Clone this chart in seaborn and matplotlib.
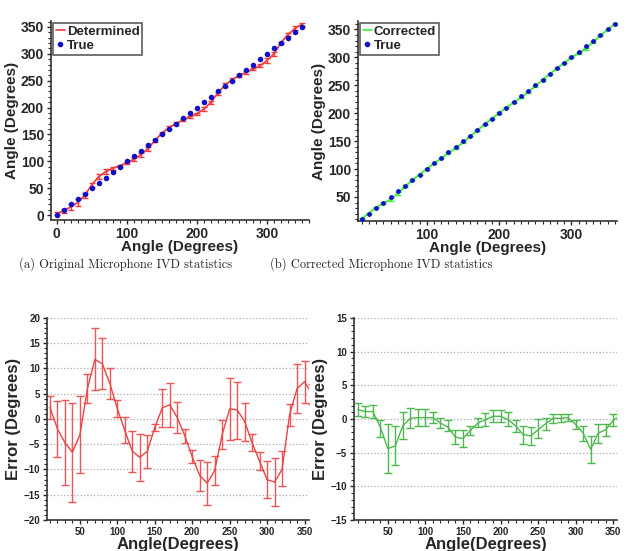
import numpy as np
import pandas as pd
import seaborn as sns
import matplotlib.pyplot as plt
from matplotlib.ticker import MultipleLocator
from matplotlib.lines import Line2D

# Data
true_a = [0, 10, 20, 30, 40, 50, 60, 70, 80, 90, 100, 110, 120, 130, 140, 150, 160, 170,
          180, 190, 200, 210, 220, 230, 240, 250, 260, 270, 280, 290, 300, 310, 320, 330, 340, 350]
determined = [3, 8, 15.3, 23.4, 36.9, 56, 71.8, 80.9, 87, 92, 97.7, 103.6, 112.4, 123.6, 138.3,
              152.2, 162.8, 170.3, 176.7, 182.5, 188.8, 197.3, 209.8, 226.9, 242, 251.8, 259.5,
              265.3, 271.6, 278, 287.5, 300, 320.8, 336, 347.4, 355]
determined_err = [3, 4, 5, 7, 5, 4, 5, 5, 3, 2, 2, 3, 4, 4, 3, 2, 3, 3, 2, 2, 2, 3, 3, 3, 3,
                  3, 3, 2, 2, 3, 4, 4, 2, 3, 4, 3]

true_b = [10, 20, 30, 40, 50, 60, 70, 80, 90, 100, 110, 120, 130, 140, 150, 160, 170, 180,
          190, 200, 210, 220, 230, 240, 250, 260, 270, 280, 290, 300, 310, 320, 330, 340, 350, 360]
corrected = [11.4, 21.1, 31.1, 38.8, 45.6, 56, 69, 80.1, 90.2, 100.2, 110.2, 119.4, 128.8,
             137.3, 147.1, 158.3, 169.4, 179.9, 190.4, 200.4, 209.9, 219, 227.7, 237.5, 248.4,
             259.3, 270.1, 280.1, 290.2, 299.2, 307.9, 315.5, 327.9, 338.4, 349.8, 360.3]
corrected_err = [1, 1, 1, 2, 3, 3, 2, 1.5, 1.3, 1.3, 1, 1, 1, 1, 1.2, 1, 1, 1, 1, 1, 1, 1,
                 1.3, 1.3, 1.4, 1, 0.7, 0.6, 0.5, 0.7, 1.1, 2, 1.4, 1, 1, 1]

err_x = [10, 20, 30, 40, 50, 60, 70, 80, 90, 100, 110, 120, 130, 140, 150, 160, 170, 180,
         190, 200, 210, 220, 230, 240, 250, 260, 270, 280, 290, 300, 310, 320, 330, 340, 350, 360]
orig_error = [2.3, -2, -4.7, -6.6, -3.1, 6, 11.8, 10.9, 7, 2, -2.3, -6.4, -7.6, -6.4, -1.7,
              2.2, 2.8, 0.3, -3.3, -7.5, -11.2, -12.7, -10.2, -3.1, 2, 1.8, -0.5, -4.7, -8.4,
              -12, -12.5, -10, 0.8, 6, 7.4, 5]
orig_lo = [0, -7.5, -13, -16.5, -10.7, 3.2, 5.8, 6, 4, 0.4, -4.8, -10.5, -12.3, -9.7, -2.4,
           -1.5, -1.5, -2.8, -4.8, -8.8, -14.2, -17, -13, -6, -4.1, -3.9, -4.3, -6.3, -10.1,
           -15.6, -17.3, -13.2, -1.3, 1.1, 3.2, 3]
orig_hi = [4.6, 3.5, 3.7, 3.2, 4.6, 9, 18, 16, 10, 3.8, 0.3, -2.4, -2.9, -3.2, -0.9, 6, 7.2,
           3.4, -2, -6.2, -8.2, -8.6, -7.3, -0.2, 8.2, 7.4, 3.2, -3, -6.6, -8.4, -7.7, -6.3,
           3, 10.8, 11.5, 7]
corr_error = [1.4, 1.1, 1.1, -1.2, -4.4, -4, -1, 0.1, 0.2, 0.2, 0.2, -0.6, -1.2, -2.7, -2.9,
              -1.7, -0.6, -0.1, 0.4, 0.4, -0.1, -1, -2.3, -2.5, -1.6, -0.7, 0.1, 0.1, 0.2,
              -0.8, -2.1, -4.5, -2.1, -1.6, -0.2, 0.6]
corr_lo = [0.4, 0.3, 0.2, -2.7, -8, -6.9, -2.9, -1.4, -1.1, -1.1, -0.6, -1.4, -1.8, -3.7, -4.1,
           -2.4, -1.2, -1.1, -0.5, -0.5, -1.1, -1.9, -3.7, -3.9, -2.8, -1.6, -0.6, -0.5, -0.3,
           -1.5, -3.2, -6.6, -3.6, -2.5, -1, 0]
corr_hi = [2.3, 2, 2.1, -0.1, -0.8, -1.1, 1.1, 1.6, 1.5, 1.5, 1.1, 0.2, -0.2, -1.6, -1.6, -1,
           0.1, 0.9, 1.3, 1.4, 1, -0.1, -1, -1.2, 0, 0.2, 0.7, 0.7, 0.7, -0.1, -1, -2.5, -0.8,
           -0.7, 0.8, 1.2]

sns.set_style("ticks")
plt.rcParams['font.family'] = ['Liberation Sans', 'DejaVu Sans']
plt.rcParams['font.weight'] = 'bold'

RED = '#f03a3a'
BLUE = '#1010c8'
GREEN_A = '#44ee44'
GREEN_B = '#4db84d'

fig = plt.figure(figsize=(6.31, 5.51), dpi=100)
ax1 = fig.add_axes([0.0808, 0.6007, 0.4089, 0.3612])
ax2 = fig.add_axes([0.5674, 0.5989, 0.4105, 0.3630])
ax3 = fig.add_axes([0.0745, 0.0563, 0.4152, 0.3666])
ax4 = fig.add_axes([0.5610, 0.0563, 0.4168, 0.3666])


def style_axes(ax, fs):
    sns.despine(ax=ax)
    ax.tick_params(axis='both', which='major', labelsize=fs, length=3, width=1, pad=2)
    ax.tick_params(axis='both', which='minor', length=2, width=0.8)
    for lab in ax.get_xticklabels() + ax.get_yticklabels():
        lab.set_fontweight('bold')
    for s in ax.spines.values():
        s.set_linewidth(1.2)
        s.set_color('#333333')


# (a) Determined vs true
df_a = pd.DataFrame({"x": true_a, "det": determined, "true": true_a})
ax1.errorbar(true_a, determined, yerr=determined_err, fmt='none', ecolor=RED,
             elinewidth=1, capsize=2.5)
sns.lineplot(data=df_a, x="x", y="det", ax=ax1, color=RED, linewidth=1.2)
sns.scatterplot(data=df_a, x="x", y="true", ax=ax1, color=BLUE, s=16, linewidth=0, zorder=3)
ax1.set_xlim(-8, 360)
ax1.set_ylim(-9, 361)
ax1.xaxis.set_major_locator(MultipleLocator(100))
ax1.xaxis.set_minor_locator(MultipleLocator(10))
ax1.yaxis.set_major_locator(MultipleLocator(50))
ax1.yaxis.set_minor_locator(MultipleLocator(10))
ax1.set_xlabel("Angle (Degrees)", fontsize=11, fontweight='bold', labelpad=-1)
ax1.set_ylabel("Angle (Degrees)", fontsize=11, fontweight='bold', labelpad=1)
style_axes(ax1, 10)

# (b) Corrected vs true
df_b = pd.DataFrame({"x": true_b, "cor": corrected, "true": true_b})
ax2.errorbar(true_b, corrected, yerr=corrected_err, fmt='none', ecolor=GREEN_A,
             elinewidth=1, capsize=2.5)
sns.lineplot(data=df_b, x="x", y="cor", ax=ax2, color=GREEN_A, linewidth=1.4)
sns.scatterplot(data=df_b, x="x", y="true", ax=ax2, color=BLUE, s=12, linewidth=0, zorder=3)
ax2.set_xlim(5, 363)
ax2.set_ylim(7, 365)
ax2.xaxis.set_major_locator(MultipleLocator(100))
ax2.xaxis.set_minor_locator(MultipleLocator(10))
ax2.yaxis.set_major_locator(MultipleLocator(50))
ax2.yaxis.set_minor_locator(MultipleLocator(10))
ax2.set_xlabel("Angle (Degrees)", fontsize=11, fontweight='bold', labelpad=-1)
ax2.set_ylabel("Angle (Degrees)", fontsize=11, fontweight='bold', labelpad=1)
style_axes(ax2, 10)

for ax, name, col in [(ax1, "Determined", RED), (ax2, "Corrected", GREEN_A)]:
    handles = [Line2D([], [], color=col, lw=1.2),
               Line2D([], [], color=BLUE, marker='o', ls='none', markersize=3)]
    leg = ax.legend(handles, [name, "True"], loc='upper left', frameon=True, fancybox=False,
                    borderaxespad=0.15, handlelength=0.7, handletextpad=0.15,
                    borderpad=0.2, labelspacing=0.15,
                    prop={'weight': 'bold', 'size': 9.5})
    leg.get_frame().set_edgecolor('#333333')
    leg.get_frame().set_linewidth(1.2)

# (c) error of original
df_c = pd.DataFrame({"x": err_x, "e": orig_error})
lo = np.array(orig_error) - np.array(orig_lo)
hi = np.array(orig_hi) - np.array(orig_error)
ax3.errorbar(err_x, orig_error, yerr=[lo, hi], fmt='none', ecolor='#ee5555',
             elinewidth=1, capsize=3)
sns.lineplot(data=df_c, x="x", y="e", ax=ax3, color='#e84545', linewidth=1)
ax3.set_xlim(6, 356)
ax3.set_ylim(-20, 20)
ax3.xaxis.set_major_locator(MultipleLocator(50))
ax3.xaxis.set_minor_locator(MultipleLocator(10))
ax3.yaxis.set_major_locator(MultipleLocator(5))
ax3.yaxis.set_minor_locator(MultipleLocator(1))
ax3.grid(axis='y', which='major', linestyle=':', color='#aaaaaa', linewidth=0.9)
ax3.set_xlabel("Angle(Degrees)", fontsize=12, fontweight='bold', labelpad=0)
ax3.set_ylabel("Error (Degrees)", fontsize=12, fontweight='bold', labelpad=2)
style_axes(ax3, 7)

# (d) error of corrected
df_d = pd.DataFrame({"x": err_x, "e": corr_error})
lo = np.array(corr_error) - np.array(corr_lo)
hi = np.array(corr_hi) - np.array(corr_error)
ax4.errorbar(err_x, corr_error, yerr=[lo, hi], fmt='none', ecolor=GREEN_B,
             elinewidth=1, capsize=3)
sns.lineplot(data=df_d, x="x", y="e", ax=ax4, color=GREEN_B, linewidth=1)
ax4.set_xlim(5, 355)
ax4.set_ylim(-15, 15)
ax4.xaxis.set_major_locator(MultipleLocator(50))
ax4.xaxis.set_minor_locator(MultipleLocator(10))
ax4.yaxis.set_major_locator(MultipleLocator(5))
ax4.yaxis.set_minor_locator(MultipleLocator(1))
ax4.grid(axis='y', which='major', linestyle=':', color='#aaaaaa', linewidth=0.9)
ax4.set_xlabel("Angle(Degrees)", fontsize=12, fontweight='bold', labelpad=0)
ax4.set_ylabel("Error (Degrees)", fontsize=12, fontweight='bold', labelpad=2)
style_axes(ax4, 7)

# captions
fig.text(126 / 631, 1 - 264 / 551, "(a) Original Microphone IVD statistics", ha='center',
         va='center', fontsize=9, family=['cmr10', 'DejaVu Serif'], fontweight='normal')
fig.text(381 / 631, 1 - 264 / 551, "(b) Corrected Microphone IVD statistics", ha='center',
         va='center', fontsize=9, family=['cmr10', 'DejaVu Serif'], fontweight='normal')

fig.savefig("out.png", dpi=100)
